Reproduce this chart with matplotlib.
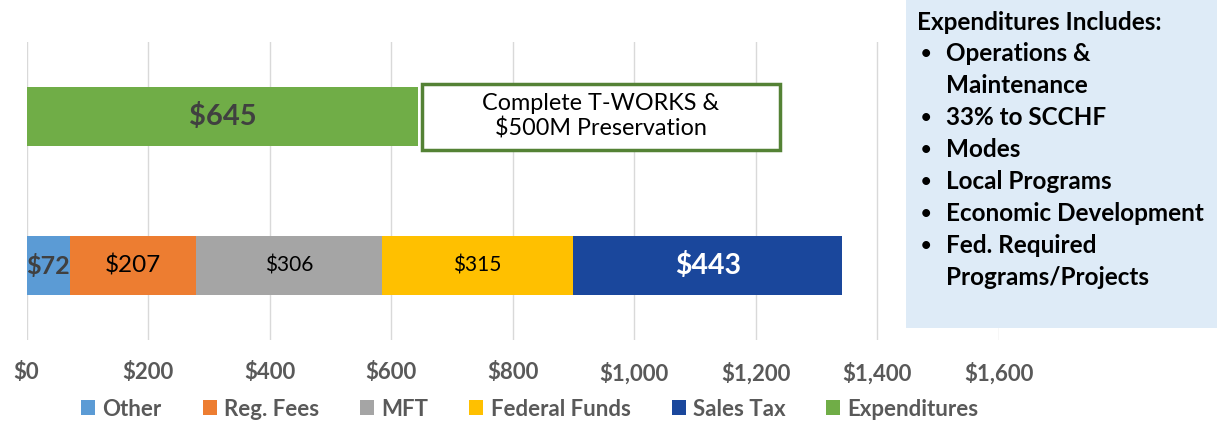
import matplotlib.pyplot as plt
from matplotlib.patches import Rectangle

# data
categories = ["Revenue", "Expenditures"]
revenue_labels = ["Other", "Reg. Fees", "MFT", "Federal Funds", "Sales Tax"]
revenue_values = [72, 207, 306, 315, 443]
revenue_colors = ["#5B9BD5", "#ED7D31", "#A5A5A5", "#FFC000", "#1A479C"]
expenditure_value = 645
expenditure_color = "#70AD47"
x_ticks = [0, 200, 400, 600, 800, 1000, 1200, 1400, 1600]

note_text = "Complete T-WORKS &\n$500M Preservation"
box_title = "Expenditures Includes:"
box_items = [["Operations &", "Maintenance"], ["33% to SCCHF"], ["Modes"],
             ["Local Programs"], ["Economic Development"],
             ["Fed. Required", "Programs/Projects"]]

# label styles per segment (size, weight, colour)
label_styles = [(18, "bold", "#404040"), (17.5, "normal", "black"),
                (15, "normal", "black"), (15, "normal", "black"),
                (20.5, "bold", "white")]

plt.rcParams["font.family"] = ["Lato", "DejaVu Sans"]

W, H = 1217, 423
fig = plt.figure(figsize=(W / 100, H / 100), dpi=100)
ax = fig.add_axes([26.5 / W, 1 - 340 / H, (998.5 - 26.5) / W, 298 / H])

ypos = [0, 1]
left = 0
for lab, val, col, st in zip(revenue_labels, revenue_values, revenue_colors, label_styles):
    ax.barh(ypos[0], val, left=left, height=0.4, color=col, label=lab, zorder=2)
    ax.text(left + val / 2, ypos[0], f"${val:,}", ha="center", va="center",
            fontsize=st[0], fontweight=st[1], color=st[2], zorder=3)
    left += val
ax.barh(ypos[1], expenditure_value, height=0.4, color=expenditure_color,
        label="Expenditures", zorder=2)
ax.text(expenditure_value / 2, ypos[1], f"${expenditure_value:,}", ha="center",
        va="center", fontsize=21, fontweight="bold", color="#404040", zorder=3)

# note box beside expenditures bar
ax.add_patch(Rectangle((651, 0.775), 589, 0.445, facecolor="white",
                       edgecolor="#548235", linewidth=2.5, zorder=3))
ax.text(651 + 589 / 2, 1.0, note_text, ha="center", va="center", fontsize=16.8,
        linespacing=1.2, color="black", zorder=4)

ax.set_xlim(0, 1600)
ax.set_ylim(-0.5, 1.5)
ax.set_xticks(x_ticks)
ax.set_xticklabels([f"${t:,}" for t in x_ticks], fontsize=16, fontweight="bold",
                   color="#595959")
ax.set_yticks([])
ax.tick_params(axis="x", length=0, pad=16)
ax.grid(axis="x", color="#D9D9D9", linewidth=1, zorder=0)
for s in ax.spines.values():
    s.set_visible(False)

leg = fig.legend(loc="center", bbox_to_anchor=(530 / W, 1 - 409 / H), ncol=6,
                 frameon=False, handlelength=0.63, handleheight=0.63,
                 handletextpad=0.32, columnspacing=1.85, borderpad=0,
                 prop={"size": 16, "weight": "bold"})
for t in leg.get_texts():
    t.set_color("#595959")

# side box
fig.add_artist(Rectangle((906 / W, 1 - 328 / H), (W - 906) / W, 328 / H,
                         transform=fig.transFigure, facecolor="#DEEBF7",
                         edgecolor="none", zorder=5))
fig.text(917 / W, 1 - 22 / H, box_title, ha="left", va="center", fontsize=17.5,
         fontweight="bold", color="black", zorder=6)
line = 1
for item in box_items:
    for k, txt in enumerate(item):
        yy = 1 - (22 + 31.9 * line) / H
        if k == 0:
            fig.text(921 / W, yy, "•", ha="left", va="center", fontsize=13,
                     fontweight="bold", color="black", zorder=6)
        fig.text(946 / W, yy, txt, ha="left", va="center", fontsize=17.5,
                 fontweight="bold", color="black", zorder=6)
        line += 1

fig.savefig("out.png", dpi=100)
